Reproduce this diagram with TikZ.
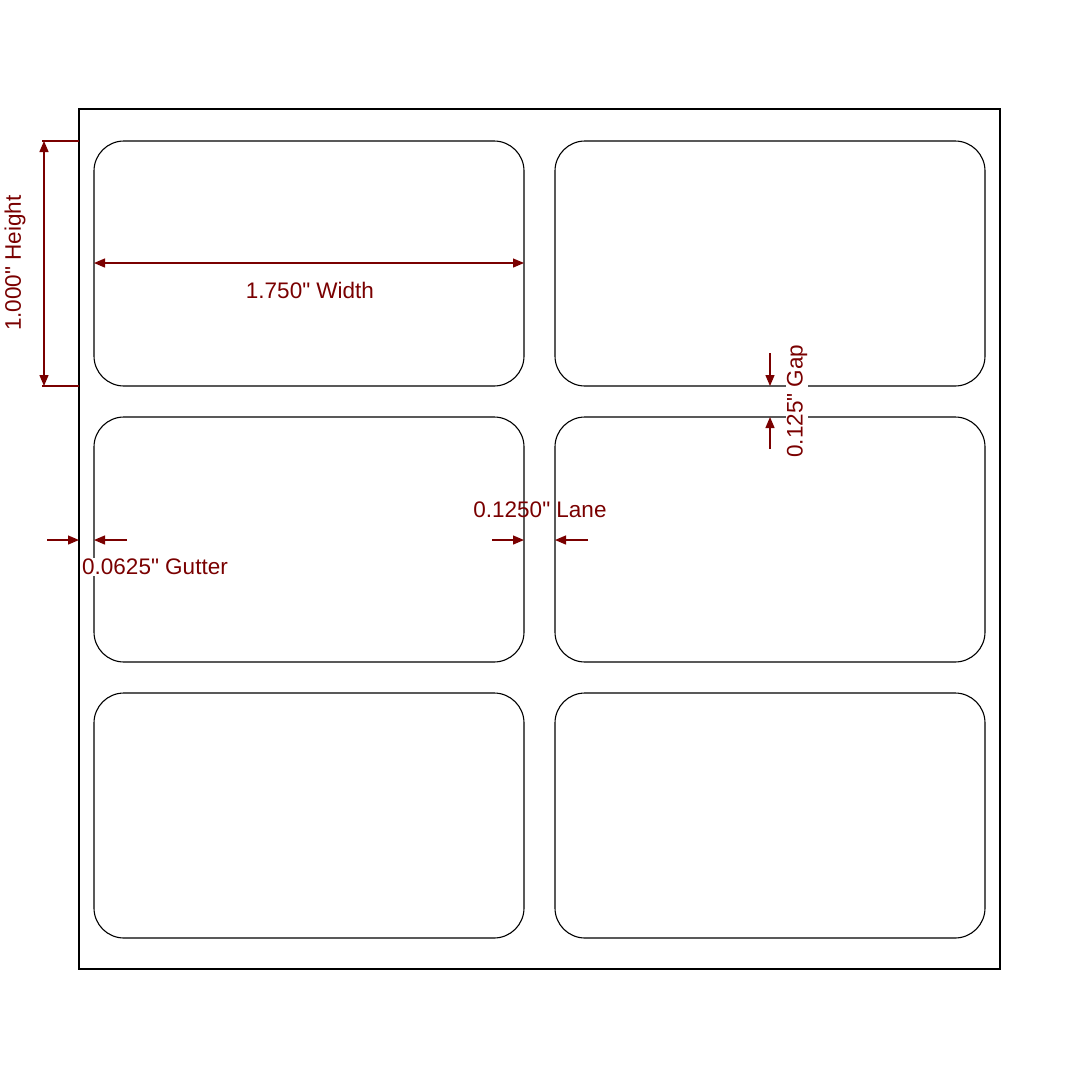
\documentclass[tikz,border=0pt]{standalone}
\usepackage{fontspec}
\newfontfamily\dimfont{Liberation Sans}
\usetikzlibrary{arrows.meta}
\definecolor{dim}{HTML}{7A0000}
\begin{document}
\begin{tikzpicture}[x=1pt,y=-1pt,
  lbl/.style={draw=black,line width=1.1pt,rounded corners=30pt},
  dimline/.style={draw=dim,line width=1.3pt,-{Triangle[length=11pt,width=9pt]}},
  dimboth/.style={draw=dim,line width=1.3pt,{Triangle[length=11pt,width=9pt]}-{Triangle[length=11pt,width=9pt]}},
  ext/.style={draw=dim,line width=1.3pt},
  dtext/.style={text=dim,font=\dimfont\fontsize{22.5}{26}\selectfont,inner sep=1pt}]
\useasboundingbox[fill=white] (0,0) rectangle (1080,1080);
\draw[line width=1.1pt] (79,109) rectangle (1000,969);
\foreach \r/\y in {1/141,2/417,3/693}{
  \draw[lbl] (94,\y) rectangle (524,\y+245);
  \draw[lbl] (555,\y) rectangle (985,\y+245);
}
% height
\coordinate (h1) at (44,141); \coordinate (h2) at (44,386);
\draw[ext] (42,141) -- (79,141); \draw[ext] (42,386) -- (79,386);
\draw[dimboth] (h1) -- (h2);
\node[dtext,rotate=90] (ht) at (15,263) {1.000" Height};
% width
\coordinate (w1) at (94,263); \coordinate (w2) at (524,263);
\draw[dimboth] (w1) -- (w2);
\node[dtext] (wt) at (310,290) {1.750" Width};
% gutter
\coordinate (g1) at (47,540); \coordinate (g2) at (79,540);
\coordinate (g3) at (127,540); \coordinate (g4) at (94,540);
\draw[dimline] (g1) -- (g2); \draw[dimline] (g3) -- (g4);
\node[dtext,fill=white] (gt) at (155,567) {0.0625" Gutter};
% lane
\coordinate (l1) at (492,540); \coordinate (l2) at (524,540);
\coordinate (l3) at (588,540); \coordinate (l4) at (555,540);
\draw[dimline] (l1) -- (l2); \draw[dimline] (l3) -- (l4);
\node[dtext] (lt) at (540,510) {0.1250" Lane};
% gap
\coordinate (p1) at (770,353); \coordinate (p2) at (770,386);
\coordinate (p3) at (770,449); \coordinate (p4) at (770,417);
\draw[dimline] (p1) -- (p2); \draw[dimline] (p3) -- (p4);
\node[dtext,fill=white,rotate=90] (pt) at (797,401) {0.125" Gap};
\end{tikzpicture}
\end{document}
